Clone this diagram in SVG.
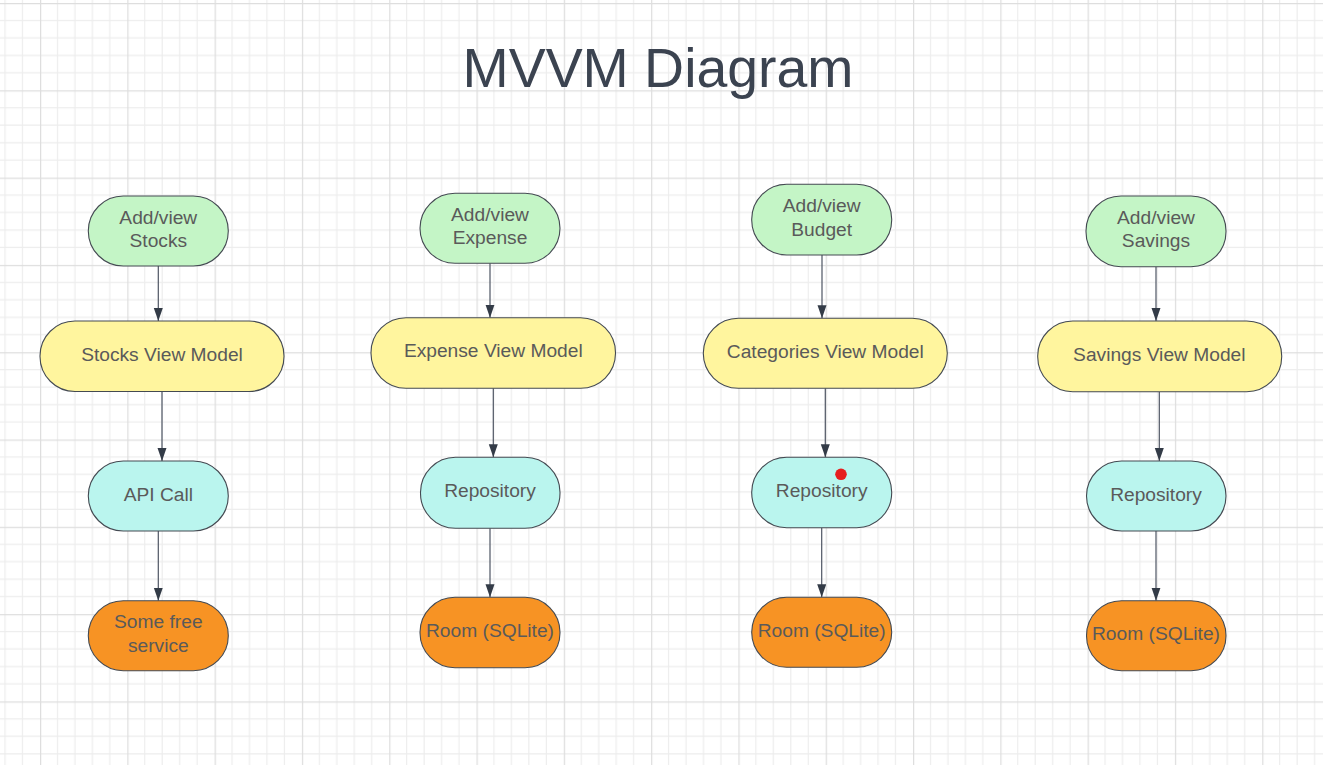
<svg xmlns="http://www.w3.org/2000/svg" width="1323" height="765" viewBox="0 0 1323 765">
<style>
.node{stroke:#444a52;stroke-width:1.1}
.green{fill:#c4f5c6}
.yellow{fill:#fff59e}
.cyan{fill:#baf5ee}
.orange{fill:#f79324}
.lbl{font-family:"Liberation Sans",Arial,sans-serif;font-size:19.2px;fill:#5a5a5a;text-anchor:middle}
.title{font-family:"Liberation Sans",Arial,sans-serif;font-size:55.4px;fill:#3b4350;text-anchor:middle}
.edge{stroke:#4e5563;stroke-width:1.2;fill:none;marker-end:url(#arr)}
</style>
<defs>
<pattern id="grid" patternUnits="userSpaceOnUse" x="40" y="3" width="87.3" height="87.3">
<path d="M17.46 0V87.3M34.92 0V87.3M52.38 0V87.3M69.84 0V87.3M0 17.46H87.3M0 34.92H87.3M0 52.38H87.3M0 69.84H87.3" stroke="#ededed" stroke-width="1.2" fill="none"/>
<path d="M0.6 0V87.3M0 0.6H87.3" stroke="#dedede" stroke-width="1.3" fill="none"/>
</pattern>
<marker id="arr" markerUnits="userSpaceOnUse" markerWidth="14" markerHeight="10" refX="13" refY="4.5" orient="auto">
<path d="M0,0 L13,4.5 L0,9 Z" fill="#333b47"/>
</marker>
</defs>
<rect width="1323" height="765" fill="#ffffff"/>
<rect width="1323" height="765" fill="url(#grid)"/>
<text class="title" x="658" y="87">MVVM Diagram</text>

<g id="connectors">
<path class="edge" d="M158.3 266V321"/>
<path class="edge" d="M162 391.7V461"/>
<path class="edge" d="M158.3 531V600.7"/>
<path class="edge" d="M490 263.3V317.7"/>
<path class="edge" d="M493.3 388.3V457.3"/>
<path class="edge" d="M490 528.3V597.3"/>
<path class="edge" d="M822 255V318.3"/>
<path class="edge" d="M825.3 388.3V457.3"/>
<path class="edge" d="M821.7 527.7V597.3"/>
<path class="edge" d="M1156 266.7V321"/>
<path class="edge" d="M1159.3 391.7V461"/>
<path class="edge" d="M1156 531V600.7"/>
</g>

<g id="addview-stocks"><rect class="node green" x="88.3" y="196" width="140" height="70" rx="35"/><text class="lbl" x="158.3" y="223.5">Add/view</text><text class="lbl" x="158.3" y="247">Stocks</text></g>
<g id="stocks-vm"><rect class="node yellow" x="40" y="321" width="244" height="70.5" rx="35"/><text class="lbl" x="162" y="360.5">Stocks View Model</text></g>
<g id="api-call"><rect class="node cyan" x="88.3" y="461" width="140" height="70" rx="35"/><text class="lbl" x="158.3" y="500.5">API Call</text></g>
<g id="free-service"><rect class="node orange" x="88.3" y="600.7" width="140" height="70" rx="35"/><text class="lbl" x="158.3" y="628.2">Some free</text><text class="lbl" x="158.3" y="651.7">service</text></g>

<g id="addview-expense"><rect class="node green" x="420" y="193.3" width="140" height="70" rx="35"/><text class="lbl" x="490" y="220.8">Add/view</text><text class="lbl" x="490" y="244.3">Expense</text></g>
<g id="expense-vm"><rect class="node yellow" x="371" y="317.7" width="244.5" height="70.6" rx="35"/><text class="lbl" x="493.3" y="357.2">Expense View Model</text></g>
<g id="repo-expense"><rect class="node cyan" x="420.5" y="457.3" width="139.5" height="71" rx="35"/><text class="lbl" x="490" y="497.3">Repository</text></g>
<g id="room-expense"><rect class="node orange" x="420" y="597.3" width="140" height="70.4" rx="35"/><text class="lbl" x="490" y="637">Room (SQLite)</text></g>

<g id="addview-budget"><rect class="node green" x="751.7" y="184.3" width="140" height="70.7" rx="35"/><text class="lbl" x="821.7" y="212">Add/view</text><text class="lbl" x="821.7" y="235.5">Budget</text></g>
<g id="categories-vm"><rect class="node yellow" x="703.3" y="318.3" width="244" height="70" rx="35"/><text class="lbl" x="825.3" y="357.5">Categories View Model</text></g>
<g id="repo-budget"><rect class="node cyan" x="751.7" y="457.3" width="140" height="70.4" rx="35"/><text class="lbl" x="821.7" y="497.3">Repository</text><circle cx="841" cy="474.3" r="5.8" fill="#e61e1e"/></g>
<g id="room-budget"><rect class="node orange" x="751.7" y="597.3" width="140" height="70" rx="35"/><text class="lbl" x="821.7" y="636.8">Room (SQLite)</text></g>

<g id="addview-savings"><rect class="node green" x="1086" y="196" width="140" height="70.7" rx="35"/><text class="lbl" x="1156" y="223.7">Add/view</text><text class="lbl" x="1156" y="247.2">Savings</text></g>
<g id="savings-vm"><rect class="node yellow" x="1037.7" y="321" width="244" height="70.7" rx="35"/><text class="lbl" x="1159.3" y="360.5">Savings View Model</text></g>
<g id="repo-savings"><rect class="node cyan" x="1086.5" y="461" width="139.5" height="70" rx="35"/><text class="lbl" x="1156" y="500.5">Repository</text></g>
<g id="room-savings"><rect class="node orange" x="1086.5" y="600.7" width="139.5" height="70" rx="35"/><text class="lbl" x="1156" y="640.2">Room (SQLite)</text></g>
</svg>
